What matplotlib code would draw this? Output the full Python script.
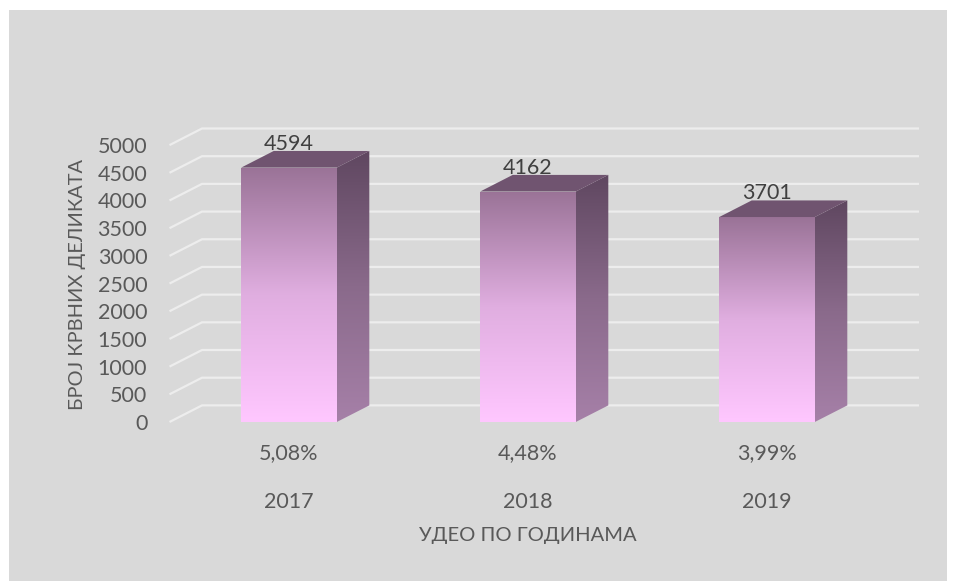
import numpy as np
from matplotlib import pyplot as plt
import matplotlib.patches as patches
from matplotlib.colors import LinearSegmentedColormap

years = ['2017', '2018', '2019']
shares = ['5,08%', '4,48%', '3,99%']
counts = [4594, 4162, 3701]
y_ticks = [0, 500, 1000, 1500, 2000, 2500, 3000, 3500, 4000, 4500, 5000]

W, H = 956, 581
bar_w = 0.4
depth_x = 0.136
depth_y = 300

plt.rcParams['font.family'] = ['Lato', 'Open Sans', 'DejaVu Sans']

front_cmap = LinearSegmentedColormap.from_list('front', ['#FFC7FF', '#E0AEE0', '#9A7397'])
side_cmap = LinearSegmentedColormap.from_list('side', ['#A680A8', '#8A6A8B', '#5F4760'])
grad = np.linspace(0, 1, 256).reshape(-1, 1)


def draw_bar(ax, x, val):
    l, r = x - bar_w / 2, x + bar_w / 2

    front = patches.Polygon([(l, 0), (r, 0), (r, val), (l, val)], transform=ax.transData)
    im = ax.imshow(grad, cmap=front_cmap, origin='lower', aspect='auto', extent=(l, r, 0, val), zorder=3)
    im.set_clip_path(front)

    side = patches.Polygon([(r, 0), (r + depth_x, depth_y), (r + depth_x, val + depth_y), (r, val)], transform=ax.transData)
    im = ax.imshow(grad, cmap=side_cmap, origin='lower', aspect='auto', extent=(r, r + depth_x, 0, val + depth_y), zorder=3)
    im.set_clip_path(side)

    ax.add_patch(patches.Polygon([(l, val), (r, val), (r + depth_x, val + depth_y), (l + depth_x, val + depth_y)],
                                 facecolor='#705470', edgecolor='none', zorder=3))


fig = plt.figure(figsize=(W / 100, H / 100), dpi=100, facecolor='white')
fig.patches.append(patches.Rectangle((9 / W, 0), 938 / W, 571 / H, transform=fig.transFigure, facecolor='#D9D9D9', edgecolor='none', zorder=-1))

ax = fig.add_axes([169.5 / W, (H - 422) / H, 239 * (3 + depth_x) / W, 293.5 / H])
ax.patch.set_alpha(0)

# gridlines run along the side wall and then the back wall
for t in y_ticks:
    ax.plot([-0.5, -0.5 + depth_x, 2.5 + depth_x], [t, t + depth_y, t + depth_y], color='#EDEDED', lw=1.6, zorder=1,
            solid_joinstyle='miter', solid_capstyle='butt', clip_on=False)

for i, v in enumerate(counts):
    draw_bar(ax, i, v)
    ax.annotate(str(v), (i, v), xytext=(0, 17), textcoords='offset points', ha='center', va='center', fontsize=15.5, color='#404040', zorder=5)
    ax.annotate(years[i], (i, 0), xytext=(0, -57.5), textcoords='offset points', ha='center', va='center', fontsize=15.5, color='#595959')

ax.set_xlim(-0.5, 2.5 + depth_x)
ax.set_ylim(0, 5000 + depth_y)
ax.set_xticks(range(len(years)), shares)
ax.set_yticks(y_ticks)
ax.tick_params(axis='both', length=0, labelsize=15.5, labelcolor='#595959')
ax.tick_params(axis='y', pad=16)
ax.tick_params(axis='x', pad=15)
for s in ax.spines.values():
    s.set_visible(False)

ax.set_ylabel('БРОЈ КРВНИХ ДЕЛИКАТА', fontsize=14.4, color='#595959', va='center')
ax.yaxis.set_label_coords((77 - 169.5) / 750, (422 - 285) / 293.5)
fig.text(528 / W, (H - 536) / H, 'УДЕО ПО ГОДИНАМА', ha='center', va='center', fontsize=14.5, color='#595959')

fig.savefig('out.png', dpi=100)
